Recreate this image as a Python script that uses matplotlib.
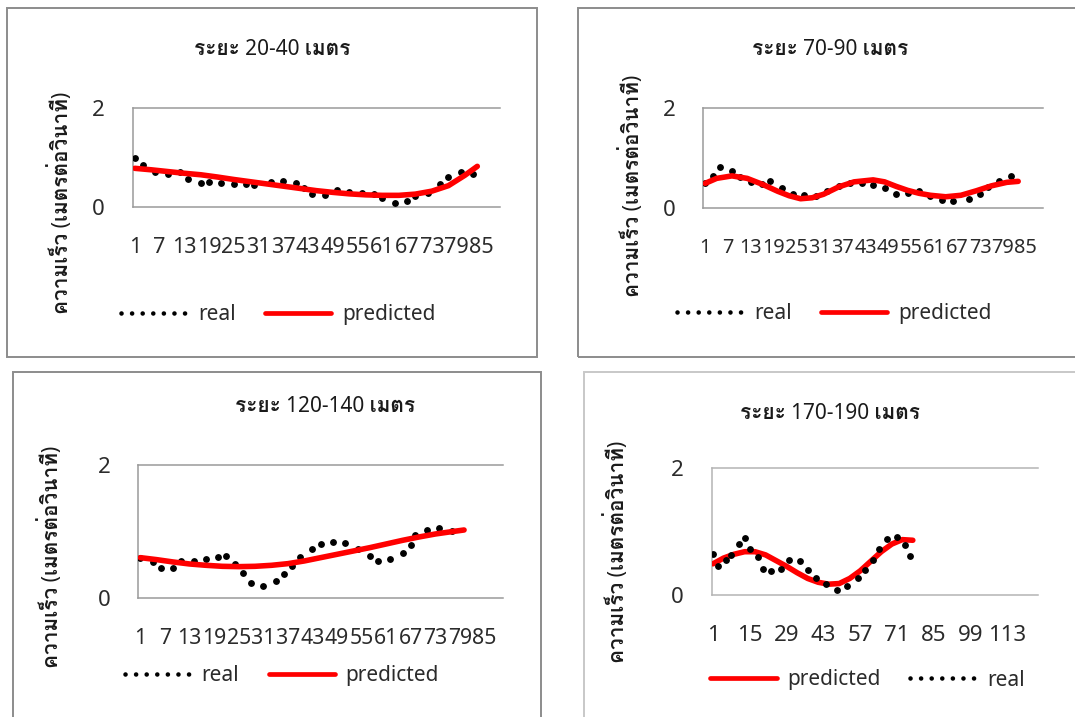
import matplotlib
matplotlib.use("Agg")
import matplotlib.pyplot as plt
from matplotlib import font_manager
from matplotlib.ft2font import FT2Font
from matplotlib.lines import Line2D
from matplotlib.patches import Rectangle

OUTPUT_PLOT = "out.png"
W, H = 1075, 717

TITLES = ["ระยะ 20-40 เมตร", "ระยะ 70-90 เมตร", "ระยะ 120-140 เมตร", "ระยะ 170-190 เมตร"]
Y_LABEL = "ความเร็ว (เมตรต่อวินาที)"

# measured speed (dots) and fitted speed (red) per distance band
real_x_20_40 = [1, 3, 6, 9, 12, 14, 17, 19, 22, 25, 28, 30, 34, 37, 40, 42,
                44, 47, 50, 53, 56, 59, 61, 64, 67, 69, 72, 75, 77, 80, 83]
real_y_20_40 = [0.99, 0.86, 0.72, 0.68, 0.72, 0.58, 0.50, 0.52, 0.50, 0.47, 0.47, 0.45, 0.52, 0.53, 0.49, 0.40,
                0.27, 0.25, 0.36, 0.32, 0.30, 0.27, 0.19, 0.10, 0.14, 0.23, 0.30, 0.47, 0.62, 0.71, 0.68]
pred_x_20_40 = [1, 5, 9, 13, 17, 21, 25, 29, 33, 37, 41, 45, 49, 53, 57, 61, 65, 69, 73, 77, 81, 84]
pred_y_20_40 = [0.79, 0.76, 0.725, 0.69, 0.66, 0.615, 0.565, 0.52, 0.475, 0.43, 0.385, 0.34, 0.305,
                0.275, 0.255, 0.245, 0.245, 0.27, 0.33, 0.44, 0.65, 0.83]

real_x_70_90 = [1, 3, 5, 8, 10, 13, 16, 18, 21, 24, 27, 30, 33, 36, 39, 42, 45, 48, 51,
                54, 57, 60, 63, 66, 70, 73, 75, 78, 81]
real_y_70_90 = [0.49, 0.64, 0.81, 0.74, 0.62, 0.52, 0.47, 0.53, 0.39, 0.28, 0.26, 0.24, 0.33, 0.44, 0.50,
                0.49, 0.46, 0.39, 0.28, 0.30, 0.34, 0.23, 0.155, 0.13, 0.185, 0.28, 0.41, 0.54, 0.63]
pred_x_70_90 = [1, 4, 8, 12, 16, 20, 23, 26, 29, 32, 36, 40, 45, 48, 51, 54, 57, 60, 64, 68, 72, 76, 80, 83]
pred_y_70_90 = [0.49, 0.59, 0.64, 0.59, 0.47, 0.33, 0.24, 0.18, 0.20, 0.27, 0.42, 0.52, 0.56, 0.52,
                0.43, 0.35, 0.29, 0.25, 0.22, 0.25, 0.34, 0.44, 0.51, 0.53]

real_x_120_140 = [1, 4, 6, 9, 11, 14, 17, 20, 22, 24, 26, 28, 31, 34, 36, 38, 40, 43, 45, 48,
                  51, 54, 57, 59, 62, 65, 67, 68, 71, 74, 77]
real_y_120_140 = [0.60, 0.54, 0.45, 0.45, 0.56, 0.56, 0.59, 0.615, 0.635, 0.51, 0.374, 0.235, 0.19, 0.265,
                  0.365, 0.485, 0.625, 0.735, 0.82, 0.85, 0.825, 0.74, 0.635, 0.555, 0.59, 0.675, 0.80,
                  0.95, 1.025, 1.05, 1.01]
pred_x_120_140 = [1, 5, 9, 13, 17, 21, 25, 29, 33, 37, 41, 45, 49, 53, 57, 61, 65, 69, 73, 77, 80]
pred_y_120_140 = [0.61, 0.58, 0.545, 0.515, 0.495, 0.48, 0.475, 0.48, 0.495, 0.52, 0.56, 0.61, 0.66,
                  0.71, 0.76, 0.815, 0.87, 0.92, 0.965, 1.0, 1.025]

real_x_170_190 = [1, 3, 6, 8, 11, 13, 15, 18, 20, 23, 27, 30, 34, 37, 40, 44, 48, 52, 56, 59,
                  62, 64, 67, 71, 74, 76]
real_y_170_190 = [0.645, 0.46, 0.545, 0.63, 0.80, 0.89, 0.72, 0.59, 0.415, 0.37, 0.415, 0.555, 0.54,
                  0.39, 0.26, 0.175, 0.075, 0.145, 0.26, 0.39, 0.555, 0.72, 0.875, 0.915, 0.78, 0.615]
pred_x_170_190 = [1, 5, 9, 13, 17, 21, 25, 29, 33, 37, 41, 45, 49, 53, 57, 61, 65, 69, 73, 77]
pred_y_170_190 = [0.49, 0.58, 0.64, 0.68, 0.68, 0.63, 0.54, 0.45, 0.35, 0.26, 0.20, 0.17, 0.18, 0.26,
                  0.38, 0.53, 0.68, 0.80, 0.87, 0.86]

X_TICKS_SHORT = list(range(1, 86, 6))
X_TICKS_LONG = list(range(1, 114, 14))
Y_TICKS = [0, 2]


def thai_family():
    # first installed font that carries Thai glyphs
    for entry in font_manager.fontManager.ttflist:
        try:
            if 0x0E27 in FT2Font(entry.fname).get_charmap():
                return entry.name
        except Exception:
            continue
    return None


def fx(x):
    return x / W


def fy(y):
    return 1 - y / H


def draw_panel(fig, p, family):
    # outer chart frame
    x0, y0, x1, y1 = p["frame"]
    fig.patches.append(Rectangle((fx(x0), fy(y1)), (x1 - x0) / W, (y1 - y0) / H,
                                 transform=fig.transFigure, fill=False,
                                 edgecolor=p["frame_color"], linewidth=1.4))

    l, t, r, b = p["area"]
    ax = fig.add_axes([fx(l), fy(b), (r - l) / W, (b - t) / H])
    ax.set_xlim(0.5, p["ncat"] + 0.5)
    ax.set_ylim(0, 2)

    real_z, pred_z = (4, 3) if p["pred_first"] else (3, 4)
    ax.plot(p["rx"], p["ry"], linestyle="none", marker="o", markersize=3.9,
            color="black", zorder=real_z)
    ax.plot(p["px"], p["py"], color="#ff0000", linewidth=4.0,
            solid_capstyle="round", solid_joinstyle="round", zorder=pred_z)

    for side in ["top", "left", "bottom"]:
        ax.spines[side].set_color(p["grid_color"])
        ax.spines[side].set_linewidth(1.1)
    ax.spines["right"].set_visible(False)

    # crowded category labels, sized so neighbours just touch
    ax.set_xticks(p["xticks"])
    ax.set_xticklabels([str(v) for v in p["xticks"]])
    ax.set_yticks(Y_TICKS)
    ax.tick_params(axis="x", length=0, pad=21.5, labelsize=p["xsize"], labelcolor="#2b2b2b")
    ax.tick_params(axis="y", length=0, pad=20, labelsize=16, labelcolor="#2b2b2b")
    for lab in ax.get_xticklabels() + ax.get_yticklabels():
        lab.set_family(family)

    fig.text(fx(p["title_xy"][0]), fy(p["title_xy"][1]), p["title"], ha="center", va="center",
             fontsize=15, fontweight="bold", family=family, color="#1a1a1a")
    fig.text(fx(p["ylab_xy"][0]), fy(p["ylab_xy"][1]), Y_LABEL, ha="center", va="center",
             rotation=90, fontsize=15, fontweight="bold", family=family, color="#1a1a1a")

    real_h = Line2D([], [], color="black", linewidth=3.3, linestyle=(0, (0.01, 2.3)),
                    dash_capstyle="round")
    pred_h = Line2D([], [], color="#ff0000", linewidth=3.4, solid_capstyle="round")
    if p["pred_first"]:
        handles, labels = [pred_h, real_h], ["predicted", "real"]
    else:
        handles, labels = [real_h, pred_h], ["real", "predicted"]
    ax.legend(handles, labels, loc="center", ncol=2, frameon=False,
              bbox_to_anchor=(fx(p["leg_xy"][0]), fy(p["leg_xy"][1])), bbox_transform=fig.transFigure,
              prop={"family": family, "size": 15}, labelcolor="#2b2b2b",
              handlelength=3.2, handletextpad=0.5, columnspacing=1.4)


def main():
    thai = thai_family()
    family = ["Noto Sans", thai] if thai else ["Noto Sans", "DejaVu Sans"]

    panels = [
        dict(title=TITLES[0], rx=real_x_20_40, ry=real_y_20_40, px=pred_x_20_40, py=pred_y_20_40,
             frame=(7.3, 8.3, 537.3, 357.3), area=(132.7, 108.3, 500, 207.5), ncat=89,
             xticks=X_TICKS_SHORT, xsize=15.5, title_xy=(272, 49.3), ylab_xy=(60.3, 202.6),
             leg_xy=(278, 314.3), pred_first=False, frame_color="#8c8c8c", grid_color="#9a9a9a"),
        dict(title=TITLES[1], rx=real_x_70_90, ry=real_y_70_90, px=pred_x_70_90, py=pred_y_70_90,
             frame=(577.7, 8.3, 1085, 357.3), area=(703.3, 108.3, 1043, 207.7), ncat=89,
             xticks=X_TICKS_SHORT, xsize=14.3, title_xy=(830, 49.3), ylab_xy=(631.7, 186),
             leg_xy=(834, 313.3), pred_first=False, frame_color="#8c8c8c", grid_color="#9a9a9a"),
        dict(title=TITLES[2], rx=real_x_120_140, ry=real_y_120_140, px=pred_x_120_140, py=pred_y_120_140,
             frame=(13.3, 371.7, 540.7, 730), area=(138.3, 465, 503, 598.3), ncat=89,
             xticks=X_TICKS_SHORT, xsize=15.3, title_xy=(325, 406.7), ylab_xy=(50.4, 557),
             leg_xy=(281.8, 675.7), pred_first=False, frame_color="#8c8c8c", grid_color="#9a9a9a"),
        dict(title=TITLES[3], rx=real_x_170_190, ry=real_y_170_190, px=pred_x_170_190, py=pred_y_170_190,
             frame=(584, 371.7, 1085, 730), area=(711.7, 467.7, 1037.7, 595), ncat=124,
             xticks=X_TICKS_LONG, xsize=16, title_xy=(830, 413.3), ylab_xy=(616.7, 552),
             leg_xy=(867.3, 680), pred_first=True, frame_color="#c8c8c8", grid_color="#b4b4b4"),
    ]

    fig = plt.figure(figsize=(W / 100, H / 100), dpi=100)
    fig.patch.set_facecolor("white")
    for p in panels:
        draw_panel(fig, p, family)

    fig.savefig(OUTPUT_PLOT, dpi=100)
    plt.close(fig)
    print(f"Saved: {OUTPUT_PLOT}")


if __name__ == "__main__":
    main()
